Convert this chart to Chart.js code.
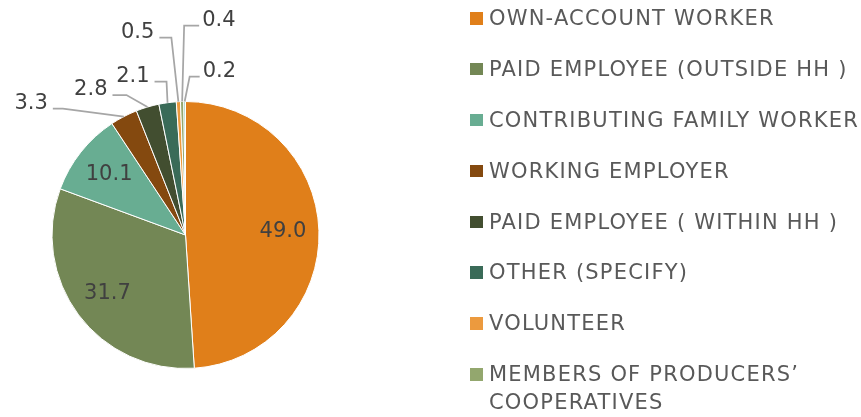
<!DOCTYPE html>
<html>
<head>
<meta charset="utf-8">
<script src="https://cdn.jsdelivr.net/npm/chart.js@4.4.1/dist/chart.umd.min.js"></script>
<style>
  html, body { margin: 0; padding: 0; background: #fff; overflow: hidden; }
  #wrap { position: relative; width: 861px; height: 417px; }
  #pie { position: absolute; left: 0; top: 0; }
  #legend { position: absolute; left: 470px; top: 4px; width: 391px;
            font-family: "DejaVu Sans", sans-serif; font-size: 21px; color: #595959; }
  .item { position: relative; padding-left: 19px; line-height: 28px; margin-bottom: 22.9px;
          letter-spacing: 1.2px; white-space: nowrap; }
  .box { position: absolute; left: 0; top: 8px; width: 12.5px; height: 12.5px; }
</style>
</head>
<body>
<div id="wrap">
  <canvas id="pie" width="861" height="417"></canvas>
  <div id="legend"></div>
</div>
<script>
// categories (last one is cut off in the original legend)
const categories = [
    'OWN-ACCOUNT WORKER',
    'PAID EMPLOYEE (OUTSIDE HH )',
    'CONTRIBUTING FAMILY WORKER',
    'WORKING EMPLOYER',
    'PAID EMPLOYEE ( WITHIN HH )',
    'OTHER (SPECIFY)',
    'VOLUNTEER',
    ['MEMBERS OF PRODUCERS\u2019', 'COOPERATIVES'],
    'NOT STATED'
];
// share in %
const shares = [49.0, 31.7, 10.1, 3.3, 2.8, 2.1, 0.5, 0.4, 0.2];
const sliceColors = ['#E07F1A', '#738755', '#68AD92', '#84490F', '#424E30', '#3A6B58', '#EC9A3E', '#93A76E', '#8FC7B0'];

// label layout: inside labels sit on the mid angle, outside ones get a leader line
// [dx, dy, stub] -> start of leader relative to slice edge, length of horizontal stub
const labelLayout = [
    'in', 'in', 'in',
    [-71, -8, 10],
    [-35, -12, 14],
    [-13, -21, 12],
    [-19, -64, 12],
    [17, -76, -15],
    [15, -25, -10]
];

const pieLabels = {
    id: 'pieLabels',
    afterDatasetsDraw(chart) {
        const ctx = chart.ctx;
        const meta = chart.getDatasetMeta(0);
        ctx.save();
        ctx.font = '21px "DejaVu Sans", sans-serif';
        ctx.fillStyle = '#404040';
        meta.data.forEach((arc, i) => {
            const p = arc.getProps(['x', 'y', 'startAngle', 'endAngle', 'outerRadius'], true);
            const mid = (p.startAngle + p.endAngle) / 2;
            const txt = shares[i].toFixed(1);
            const lay = labelLayout[i];
            if (lay === 'in') {
                const r = p.outerRadius * 0.73;
                ctx.textAlign = 'center';
                ctx.textBaseline = 'middle';
                ctx.fillText(txt, p.x + Math.cos(mid) * r, p.y + Math.sin(mid) * r);
                return;
            }
            const ex = p.x + Math.cos(mid) * p.outerRadius;
            const ey = p.y + Math.sin(mid) * p.outerRadius;
            const sx = ex + lay[0], sy = ey + lay[1];
            ctx.strokeStyle = '#A6A6A6';
            ctx.lineWidth = 1.75;
            ctx.beginPath();
            ctx.moveTo(sx, sy);
            ctx.lineTo(sx + lay[2], sy);
            ctx.lineTo(ex, ey);
            ctx.stroke();
            ctx.textBaseline = 'alphabetic';
            if (lay[2] > 0) {
                ctx.textAlign = 'right';
                ctx.fillText(txt, sx - 5, sy);
            } else {
                ctx.textAlign = 'left';
                ctx.fillText(txt, sx + 3, sy);
            }
        });
        ctx.restore();
    }
};

const chart = new Chart(document.getElementById('pie'), {
    type: 'pie',
    data: {
        labels: categories,
        datasets: [{
            data: shares,
            backgroundColor: sliceColors,
            borderColor: '#ffffff',
            borderWidth: 1
        }]
    },
    options: {
        responsive: false,
        animation: false,
        layout: { padding: { left: 51, right: 541, top: 101, bottom: 48 } },
        plugins: {
            legend: { display: false },
            tooltip: { enabled: false }
        }
    },
    plugins: [pieLabels]
});

// html legend from the chart's own legend items
const legendEl = document.getElementById('legend');
chart.options.plugins.legend.labels.generateLabels(chart).forEach(item => {
    const div = document.createElement('div');
    div.className = 'item';
    const text = Array.isArray(item.text) ? item.text.join('<br>') : item.text;
    div.innerHTML = `<span class="box" style="background:${item.fillStyle}"></span>${text}`;
    legendEl.appendChild(div);
});
</script>
</body>
</html>
